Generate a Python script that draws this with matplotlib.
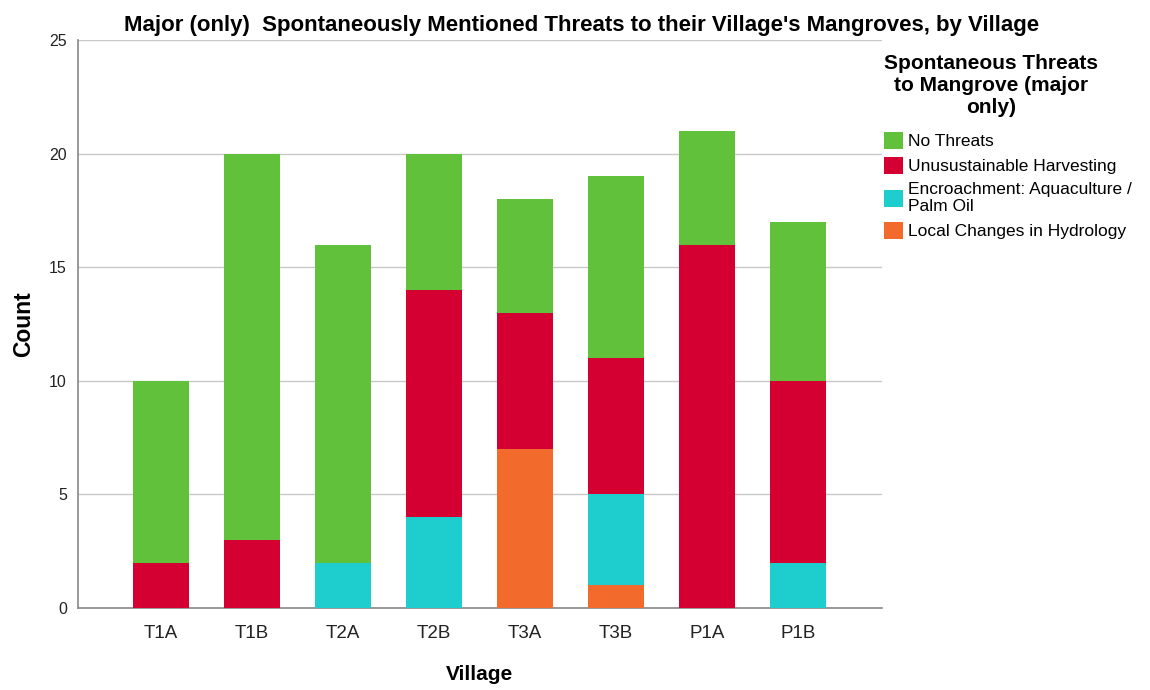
import matplotlib.pyplot as plt
import numpy as np
from matplotlib.patches import Patch

villages = ['T1A', 'T1B', 'T2A', 'T2B', 'T3A', 'T3B', 'P1A', 'P1B']
hydrology = [0, 0, 0, 0, 7, 1, 0, 0]
encroachment = [0, 0, 2, 4, 0, 4, 0, 2]
harvesting = [2, 3, 0, 10, 6, 6, 16, 8]
no_threats = [8, 17, 14, 6, 5, 8, 5, 7]

series = [
    ('Local Changes in Hydrology', hydrology, '#F26A2C'),
    ('Encroachment: Aquaculture /\nPalm Oil', encroachment, '#1ECDCD'),
    ('Unusustainable Harvesting', harvesting, '#D50032'),
    ('No Threats', no_threats, '#62C13B'),
]

plt.rcParams['font.family'] = ['Liberation Sans', 'DejaVu Sans']

fig = plt.figure(figsize=(11.5, 6.9), dpi=100)
ax = fig.add_axes([0.0678, 0.1188, 0.699, 0.823])

x = np.arange(len(villages))
bottom = np.zeros(len(villages))
for label, vals, color in series:
    ax.bar(x, vals, width=0.615, bottom=bottom, color=color, label=label, zorder=3)
    bottom += np.array(vals)

ax.set_xlim(-0.91, 7.92)
ax.set_ylim(0, 25)
ax.set_yticks([0, 5, 10, 15, 20, 25])
ax.set_xticks(x)
ax.set_xticklabels(villages, fontsize=13.5, color='#222222')
ax.tick_params(axis='y', length=0, labelsize=11.5, pad=8, colors='#222222')
ax.tick_params(axis='x', length=0, pad=12)
ax.grid(axis='y', color='#C8C8C8', linewidth=1, zorder=0)
for s in ['top', 'right']:
    ax.spines[s].set_visible(False)
for s in ['left', 'bottom']:
    ax.spines[s].set_color('#888888')
    ax.spines[s].set_linewidth(1.2)

ax.set_xlabel('Village', fontsize=15, fontweight='bold', labelpad=17)
ax.set_ylabel('Count', fontsize=16.5, fontweight='bold', labelpad=10)
fig.text(0.506, 0.978, "Major (only)  Spontaneously Mentioned Threats to their Village's Mangroves, by Village",
         fontsize=16, fontweight='bold', ha='center', va='top')

handles = [Patch(facecolor=c, label=l) for l, v, c in reversed(series)]
leg = fig.legend(handles=handles, loc='upper left', bbox_to_anchor=(0.755, 0.945),
                 frameon=False, fontsize=12.5, handlelength=1.1, handleheight=1.1,
                 handletextpad=0.3, labelspacing=0.45,
                 title='Spontaneous Threats\nto Mangrove (major\nonly)',
                 title_fontproperties={'weight': 'bold', 'size': 15})
leg._legend_box.align = 'left'
leg._legend_box.sep = 11
leg.get_title().set_multialignment('center')

fig.savefig('out.png', dpi=100)
